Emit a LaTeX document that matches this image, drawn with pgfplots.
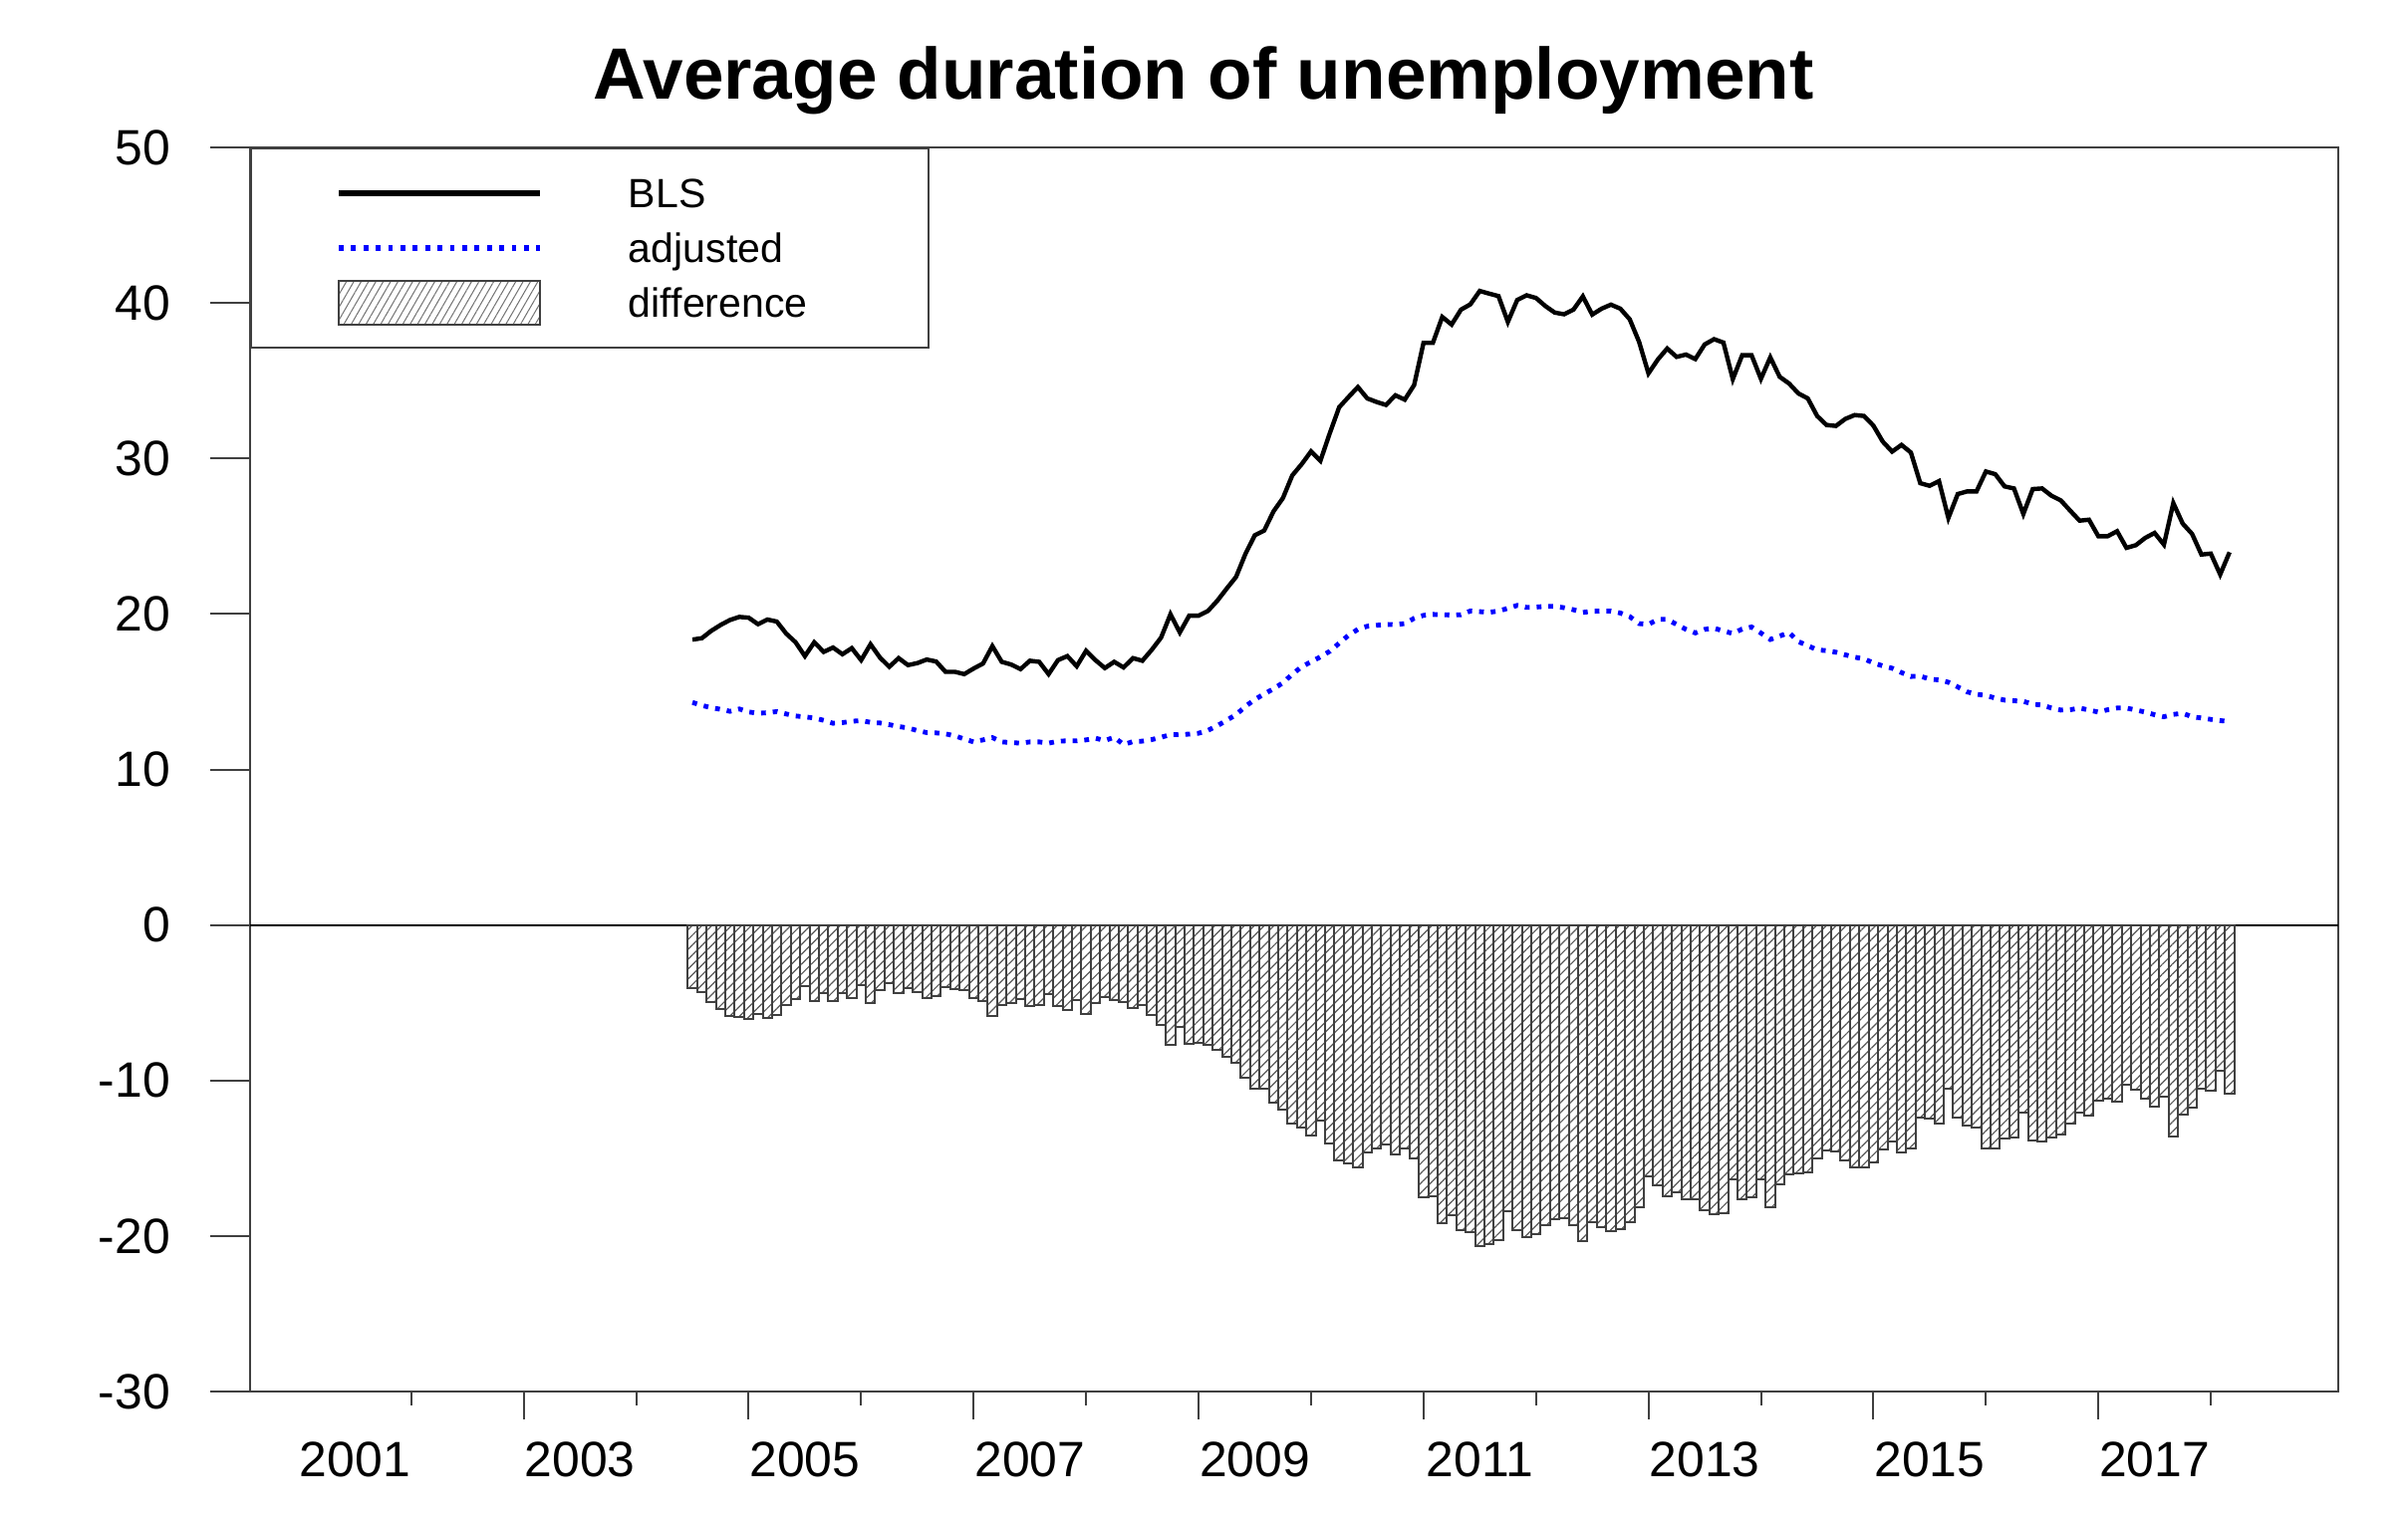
\documentclass[border=0pt]{standalone}
\usepackage{fontspec}
\setmainfont{Liberation Sans}
\usepackage{pgfplots}
\pgfplotsset{compat=1.18}
\usepackage{pgfplotstable}
\usetikzlibrary{patterns.meta}

% k = months since July 2004
\pgfplotstableread{
k bls adj diff
0 18.35 14.31 -4.04
1 18.44 14.12 -4.32
2 18.91 13.97 -4.94
3 19.29 13.87 -5.42
4 19.61 13.74 -5.87
5 19.81 13.89 -5.92
6 19.76 13.70 -6.06
7 19.34 13.61 -5.73
8 19.64 13.65 -5.99
9 19.51 13.72 -5.79
10 18.74 13.57 -5.17
11 18.18 13.44 -4.74
12 17.29 13.38 -3.91
13 18.18 13.31 -4.87
14 17.56 13.16 -4.40
15 17.84 12.97 -4.87
16 17.41 13.01 -4.40
17 17.80 13.10 -4.70
18 17.03 13.14 -3.89
19 18.05 13.03 -5.02
20 17.20 12.99 -4.21
21 16.60 12.88 -3.72
22 17.16 12.76 -4.40
23 16.71 12.67 -4.04
24 16.84 12.50 -4.34
25 17.07 12.37 -4.70
26 16.94 12.35 -4.59
27 16.28 12.29 -3.99
28 16.28 12.16 -4.12
29 16.13 11.96 -4.17
30 16.49 11.77 -4.72
31 16.81 11.90 -4.91
32 17.93 12.05 -5.88
33 16.92 11.77 -5.15
34 16.75 11.73 -5.02
35 16.45 11.69 -4.76
36 16.99 11.77 -5.22
37 16.92 11.77 -5.15
38 16.13 11.69 -4.44
39 17.03 11.82 -5.21
40 17.29 11.84 -5.45
41 16.64 11.84 -4.80
42 17.63 11.90 -5.73
43 17.03 12.01 -5.02
44 16.52 11.86 -4.66
45 16.92 12.07 -4.85
46 16.56 11.60 -4.96
47 17.16 11.79 -5.37
48 16.99 11.82 -5.17
49 17.69 11.92 -5.77
50 18.48 12.07 -6.41
51 19.98 12.24 -7.74
52 18.81 12.25 -6.56
53 19.89 12.27 -7.62
54 19.89 12.33 -7.56
55 20.19 12.51 -7.68
56 20.85 12.81 -8.04
57 21.63 13.16 -8.47
58 22.38 13.53 -8.85
59 23.86 14.05 -9.81
60 25.06 14.50 -10.56
61 25.36 14.85 -10.51
62 26.60 15.19 -11.41
63 27.45 15.57 -11.88
64 28.91 16.13 -12.78
65 29.63 16.60 -13.03
66 30.45 16.92 -13.53
67 29.85 17.24 -12.61
68 31.62 17.60 -14.02
69 33.29 18.12 -15.17
70 33.95 18.63 -15.32
71 34.59 19.01 -15.58
72 33.86 19.21 -14.65
73 33.63 19.27 -14.36
74 33.44 19.33 -14.11
75 34.06 19.31 -14.75
76 33.78 19.38 -14.40
77 34.72 19.72 -15.00
78 37.43 19.91 -17.52
79 37.43 19.97 -17.46
80 39.10 19.95 -19.15
81 38.61 19.93 -18.68
82 39.57 19.95 -19.62
83 39.91 20.19 -19.72
84 40.77 20.15 -20.62
85 40.60 20.10 -20.50
86 40.44 20.19 -20.25
87 38.78 20.36 -18.42
88 40.19 20.55 -19.64
89 40.49 20.42 -20.07
90 40.32 20.44 -19.88
91 39.80 20.49 -19.31
92 39.38 20.49 -18.89
93 39.27 20.40 -18.87
94 39.57 20.27 -19.30
95 40.42 20.10 -20.32
96 39.25 20.17 -19.08
97 39.63 20.19 -19.44
98 39.89 20.19 -19.70
99 39.63 20.06 -19.57
100 38.95 19.83 -19.12
101 37.50 19.38 -18.12
102 35.47 19.33 -16.14
103 36.36 19.65 -16.71
104 37.07 19.65 -17.42
105 36.53 19.33 -17.20
106 36.68 19.01 -17.67
107 36.39 18.78 -17.61
108 37.33 19.01 -18.32
109 37.67 19.08 -18.59
110 37.45 18.91 -18.54
111 35.10 18.74 -16.36
112 36.64 19.03 -17.61
113 36.64 19.16 -17.48
114 35.12 18.77 -16.35
115 36.50 18.36 -18.14
116 35.25 18.58 -16.67
117 34.82 18.80 -16.02
118 34.18 18.22 -15.96
119 33.86 17.96 -15.90
120 32.73 17.69 -15.04
121 32.15 17.64 -14.51
122 32.09 17.54 -14.55
123 32.54 17.37 -15.17
124 32.79 17.22 -15.57
125 32.73 17.11 -15.62
126 32.11 16.85 -15.26
127 31.08 16.66 -14.42
128 30.44 16.51 -13.93
129 30.87 16.23 -14.64
130 30.38 15.98 -14.40
131 28.41 16.00 -12.41
132 28.24 15.81 -12.43
133 28.54 15.76 -12.78
134 26.17 15.61 -10.56
135 27.71 15.31 -12.40
136 27.88 14.99 -12.89
137 27.88 14.84 -13.04
138 29.16 14.76 -14.40
139 28.99 14.59 -14.40
140 28.20 14.46 -13.74
141 28.07 14.42 -13.65
142 26.43 14.38 -12.05
143 28.03 14.20 -13.83
144 28.07 14.14 -13.93
145 27.60 13.95 -13.65
146 27.30 13.82 -13.48
147 26.64 13.84 -12.80
148 26.00 13.95 -12.05
149 26.06 13.82 -12.24
150 25.00 13.69 -11.31
151 25.00 13.84 -11.16
152 25.32 13.95 -11.37
153 24.25 13.95 -10.30
154 24.42 13.82 -10.60
155 24.89 13.69 -11.20
156 25.21 13.52 -11.69
157 24.46 13.39 -11.07
158 27.13 13.54 -13.59
159 25.81 13.61 -12.20
160 25.15 13.39 -11.76
161 23.82 13.31 -10.51
162 23.88 13.22 -10.66
163 22.54 13.14 -9.40
164 23.97 13.09 -10.88
}\durdata

\begin{document}
\begin{tikzpicture}
% main axis: data, y ticks, year labels (label ticks hidden)
\begin{axis}[
    scale only axis,
    width=524bp, height=312.25bp,
    xmin=-47.2, xmax=175.6,
    ymin=-30, ymax=50,
    axis line style={black!75, line width=0.5bp},
    tick style={black!75, line width=0.5bp},
    tick align=outside,
    tick pos=left,
    major tick length=10bp,
    ytick={-30,-20,...,50},
    yticklabels={-30,-20,-10,0,10,20,30,40,50},
    xtick={-36,-12,12,36,60,84,108,132,156},
    xticklabels={2001,2003,2005,2007,2009,2011,2013,2015,2017},
    major x tick style={draw=none},
    extra y ticks={0},
    extra y tick labels={},
    extra y tick style={grid=major, major grid style={black, line width=0.5bp}},
    tick label style={font=\fontsize{12.5}{15}\selectfont},
    xticklabel style={yshift=0.75bp},
    yticklabel style={xshift=-6.5bp},
    every axis title/.style={at={(0.4566,1)}, anchor=base, yshift=12.25bp,
        font=\fontsize{18.3}{22}\selectfont\bfseries},
    title={Average duration of unemployment},
    legend style={at={(0,1)}, anchor=north west, draw=black!75, line width=0.5bp,
        fill=white, inner xsep=0pt, inner ysep=4.375bp, row sep=0pt, column sep=0pt,
        font=\fontsize{10.3}{12}\selectfont,
        nodes={inner sep=0pt, text height=7.4bp, text depth=0pt},
        cells={anchor=west}},
]
\addplot[black, line width=1.1bp,
    legend image code/.code={
        \path[draw=none, fill=none] (0bp,-6.875bp) rectangle (94.75bp,6.875bp);
        \draw[black, line width=1.4bp] (22bp,0bp) -- (72.5bp,0bp);}]
    table[x=k, y=bls] {\durdata};
\addlegendentry{\makebox[75.25bp][l]{BLS}}

\addplot[blue, line width=1.2bp, dash pattern=on 1.2bp off 1.75bp,
    legend image code/.code={
        \path[draw=none, fill=none] (0bp,-6.875bp) rectangle (94.75bp,6.875bp);
        \draw[blue, line width=1.3bp, dash pattern=on 1.2bp off 1.9bp] (22bp,0bp) -- (72.5bp,0bp);}]
    table[x=k, y=adj] {\durdata};
\addlegendentry{\makebox[75.25bp][l]{adjusted}}

\addplot[ybar, bar width=1, bar shift=0pt, draw=black!75, line width=0.5bp,
    pattern={Lines[angle=45, distance=1.75bp, line width=0.3bp]}, pattern color=black!65,
    legend image code/.code={
        \path[draw=none, fill=none] (0bp,-6.875bp) rectangle (94.75bp,6.875bp);
        \draw[black!75, line width=0.5bp, pattern={Lines[angle=60, distance=1.6bp, line width=0.25bp]}, pattern color=black!55]
            (22bp,-5.5bp) rectangle (72.5bp,5.5bp);}]
    table[x=k, y=diff] {\durdata};
\addlegendentry{\makebox[75.25bp][l]{difference}}
\end{axis}
% overlay axis: long ticks at odd years, short ticks at even years
\begin{axis}[
    scale only axis,
    width=524bp, height=312.25bp,
    xmin=-47.2, xmax=175.6,
    ymin=-30, ymax=50,
    axis line style={draw=none},
    tick style={black!75, line width=0.5bp},
    tick align=outside,
    tick pos=left,
    major tick length=7bp,
    minor tick length=3.5bp,
    ytick=\empty,
    xtick={-18,6,30,54,78,102,126,150},
    xticklabels={},
    minor xtick={-30,-6,18,42,66,90,114,138,162},
]
\end{axis}
\pgfresetboundingbox
\path[use as bounding box] (-62.75bp,-32bp) rectangle (541.5bp,349.25bp);
\end{tikzpicture}
\end{document}
